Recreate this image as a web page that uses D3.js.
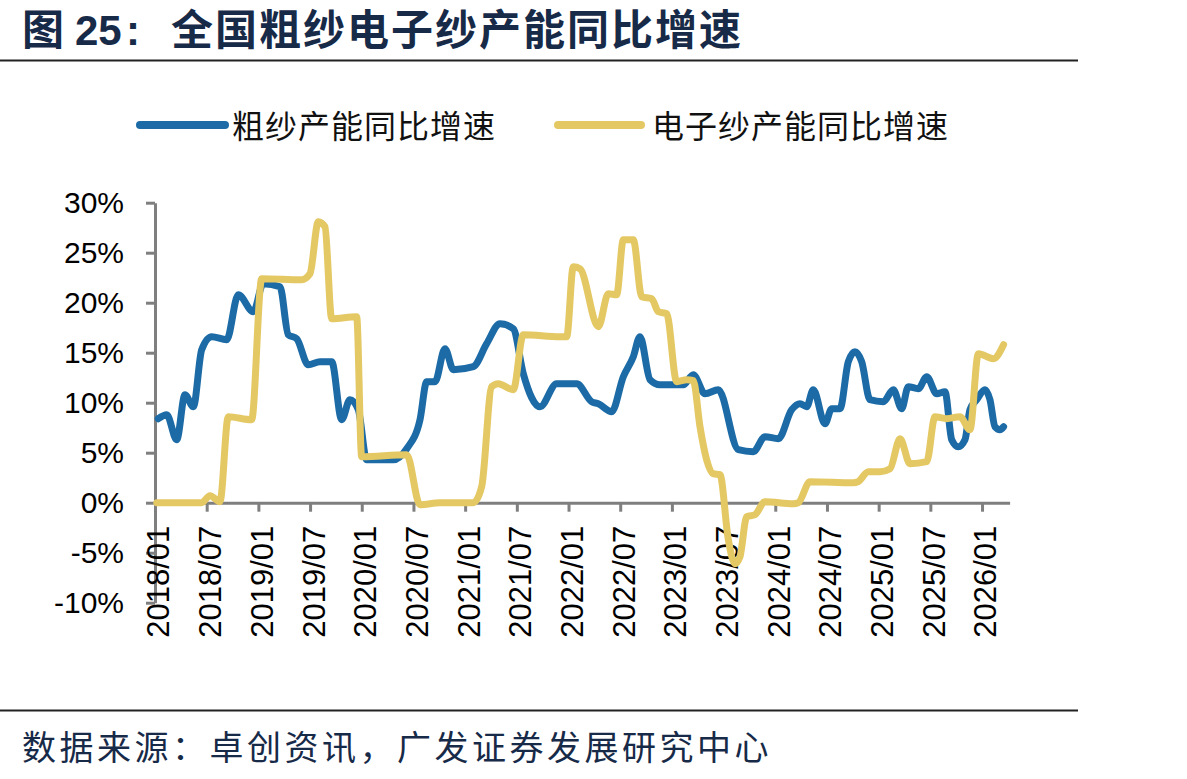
<!DOCTYPE html>
<html>
<head>
<meta charset="utf-8">
<script src="https://cdn.jsdelivr.net/npm/d3@7"></script>
<style>
  body { margin: 0; background: #fff; }
  svg { display: block; }
</style>
</head>
<body>
<svg id="chart"></svg>
<script>
// months counted from 2018/01 (0 = 2018/01, 6 = 2018/07 ...)
const cuMonths = [0.38, 1.36, 2.52, 3.48, 4.45, 5.42, 6.58, 8.32, 9.67, 11.41, 12.57, 14.51, 15.47, 16.45, 17.79, 19.15, 20.51, 21.67, 22.63, 23.6, 24.57, 27.66, 29.22, 30.76, 31.54, 32.5, 33.66, 34.63, 36.95, 38.5, 40.05, 41.59, 42.75, 44.69, 46.63, 48.95, 50.69, 51.46, 53.01, 54.36, 55.52, 56.3, 57.46, 58.62, 61.32, 62.48, 63.84, 65.39, 67.71, 69.45, 70.81, 72.35, 73.91, 74.87, 75.65, 76.41, 77.77, 78.55, 79.51, 80.48, 81.25, 82.03, 82.99, 84.54, 85.7, 86.67, 87.44, 88.6, 89.58, 90.74, 91.7, 92.48, 93.24, 94.02, 94.6, 95.38, 96.34, 96.92, 97.5, 98.08, 98.5]
const cuValues = [8.4, 8.8, 6.3, 10.8, 9.6, 15.3, 16.6, 16.3, 20.8, 19.1, 21.9, 21.6, 16.8, 16.4, 13.8, 14.1, 14.1, 8.3, 10.3, 9.3, 4.3, 4.3, 5.4, 8.3, 12.1, 12.1, 15.4, 13.3, 13.6, 15.9, 17.9, 17.4, 12.9, 9.6, 11.9, 11.9, 10.1, 9.9, 9.1, 12.6, 14.6, 16.6, 12.3, 11.8, 11.8, 12.8, 10.9, 11.3, 5.3, 5.1, 6.6, 6.4, 9.3, 9.9, 9.6, 11.3, 7.9, 9.4, 9.4, 14.1, 15.1, 14.1, 10.3, 10.1, 11.3, 9.4, 11.6, 11.4, 12.6, 10.9, 11.1, 6.3, 5.6, 6.3, 9.3, 10.3, 11.3, 10.3, 7.6, 7.3, 7.6]

const eMonths = [0.2, 5.42, 6.38, 7.54, 8.51, 11.22, 12.39, 17.03, 17.99, 18.96, 19.73, 20.51, 23.41, 23.99, 29.22, 30.76, 33.08, 36.95, 37.92, 39.08, 39.85, 41.59, 42.75, 47.01, 47.79, 48.55, 49.33, 51.46, 52.62, 53.59, 54.36, 55.52, 56.49, 57.66, 58.42, 59.4, 60.56, 61.72, 62.49, 63.26, 64.03, 64.8, 65.58, 66.55, 67.32, 67.9, 68.68, 69.64, 70.81, 74.09, 74.67, 76.03, 81.05, 81.6, 82.8, 84.16, 85.32, 86.48, 87.64, 89.58, 90.54, 91.9, 93.44, 94.6, 95.57, 97.31, 98.5]
const eValues = [0, 0, 0.7, 0.1, 8.6, 8.3, 22.4, 22.3, 22.9, 28.1, 27.6, 18.4, 18.6, 4.6, 4.8, -0.2, 0, 0, 1.6, 11.6, 11.9, 11.3, 16.8, 16.6, 16.6, 23.6, 23.4, 17.6, 20.9, 20.8, 26.3, 26.3, 20.6, 20.4, 19.1, 18.9, 12.1, 12.3, 12.2, 7.6, 4.3, 2.9, 2.8, -3.7, -6.1, -5.4, -1.4, -1.2, 0.1, -0.1, 0, 2.1, 2.0, 2.1, 3.1, 3.1, 3.4, 6.4, 3.9, 4.1, 8.6, 8.4, 8.6, 7.3, 14.9, 14.4, 15.8]

const tickMonths = [0, 6, 12, 18, 24, 30, 36, 42, 48, 54, 60, 66, 72, 78, 84, 90, 96]
const tickLabels = ["2018/01", "2018/07", "2019/01", "2019/07", "2020/01", "2020/07", "2021/01", "2021/07", "2022/01", "2022/07", "2023/01", "2023/07", "2024/01", "2024/07", "2025/01", "2025/07", "2026/01"]
const yTicks = [-10, -5, 0, 5, 10, 15, 20, 25, 30]

const seriesNames = ["粗纱产能同比增速", "电子纱产能同比增速"]
const colors = ["#1c6ba6", "#e4c864"]

const W = 1187, H = 779
const cjk = '"Noto Sans CJK SC", sans-serif'
const latin = '"Liberation Sans", Arial, sans-serif'

const svg = d3.select('#chart').attr('width', W).attr('height', H)

// title
const title = svg.append('text')
    .attr('y', 45)
    .attr('fill', '#172a48')
    .attr('font-weight', 'bold')
    .attr('font-size', 42)
title.append('tspan').attr('x', 22).attr('font-family', cjk).text('图')
title.append('tspan').attr('x', 75).attr('font-family', latin).text('25')
title.append('tspan').attr('x', 126).attr('font-family', latin).text(':')
title.append('tspan').attr('x', 171).attr('font-family', cjk)
    .attr('letter-spacing', 2).text('全国粗纱电子纱产能同比增速')

svg.append('line')
    .attr('x1', 0).attr('x2', 1078).attr('y1', 60.5).attr('y2', 60.5)
    .attr('stroke', '#222').attr('stroke-width', 2)
svg.append('line')
    .attr('x1', 0).attr('x2', 1078).attr('y1', 710.5).attr('y2', 710.5)
    .attr('stroke', '#222').attr('stroke-width', 2)

svg.append('text')
    .attr('x', 22).attr('y', 745)
    .attr('dominant-baseline', 'central')
    .attr('font-family', cjk)
    .attr('font-size', 34)
    .attr('letter-spacing', 3.5)
    .attr('fill', '#172a48')
    .text('数据来源：卓创资讯，广发证券发展研究中心')

// legend
const legendX = [[140, 225, 232], [558, 641, 652]]
seriesNames.forEach(function(name, i){
    svg.append('line')
        .attr('x1', legendX[i][0]).attr('x2', legendX[i][1])
        .attr('y1', 125).attr('y2', 125)
        .attr('stroke', colors[i]).attr('stroke-width', 8)
        .attr('stroke-linecap', 'round')
    svg.append('text')
        .attr('x', legendX[i][2]).attr('y', 124)
        .attr('dominant-baseline', 'central')
        .attr('font-family', cjk)
        .attr('font-size', 32)
        .attr('letter-spacing', 1)
        .attr('fill', '#111')
        .text(name)
})

// scales
const xScale = d3.scaleLinear().domain([0, 99.2]).range([155, 1009.6])
const yScale = d3.scaleLinear().domain([-10, 30]).range([602.7, 202.7])

// y axis
const yAxis = svg.append('g')
    .attr('transform', 'translate(155,0)')
    .call(d3.axisLeft(yScale).tickValues(yTicks).tickSize(9).tickSizeOuter(0)
        .tickFormat(d => d + '%'))
yAxis.select('.domain').attr('stroke', '#7f7f7f').attr('stroke-width', 3)
yAxis.selectAll('.tick line').attr('stroke', '#7f7f7f').attr('stroke-width', 3)
yAxis.selectAll('.tick text')
    .attr('x', -31)
    .attr('font-family', latin)
    .attr('font-size', 30)
    .attr('fill', '#000')

// x axis at 0%
const xAxis = svg.append('g')
    .attr('transform', `translate(0,${yScale(0)})`)
    .call(d3.axisBottom(xScale).tickValues(tickMonths).tickSize(9).tickSizeOuter(0)
        .tickFormat((d, i) => tickLabels[i]))
xAxis.select('.domain').attr('stroke', '#7f7f7f').attr('stroke-width', 3)
xAxis.selectAll('.tick line').attr('stroke', '#7f7f7f').attr('stroke-width', 3)
xAxis.selectAll('.tick text')
    .attr('transform', 'rotate(-90)')
    .attr('x', -23)
    .attr('y', 0)
    .attr('dy', '0.45em')
    .attr('text-anchor', 'end')
    .attr('font-family', latin)
    .attr('font-size', 31)
    .attr('fill', '#000')

// lines
const line = d3.line()
    .x(d => xScale(d[0]))
    .y(d => yScale(d[1]))
    .curve(d3.curveMonotoneX)

const series = [d3.zip(cuMonths, cuValues), d3.zip(eMonths, eValues)]
series.forEach(function(s, i){
    svg.append('path')
        .datum(s)
        .attr('d', line)
        .attr('fill', 'none')
        .attr('stroke', colors[i])
        .attr('stroke-width', 7)
        .attr('stroke-linejoin', 'round')
        .attr('stroke-linecap', 'round')
})
</script>
</body>
</html>
